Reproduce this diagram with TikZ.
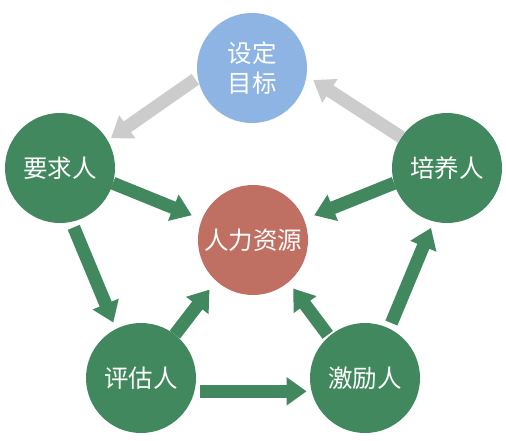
\documentclass[tikz,border=0pt]{standalone}
\usepackage{fontspec}
\setmainfont{Noto Sans CJK SC}
\usetikzlibrary{arrows.meta}
\definecolor{cgreen}{RGB}{66,136,94}
\definecolor{cblue}{RGB}{141,180,226}
\definecolor{cred}{RGB}{192,112,98}
\definecolor{cgrey}{RGB}{204,204,204}
\begin{document}
\begin{tikzpicture}[x=1pt,y=-1pt,
  circ/.style={circle,minimum size=110pt,inner sep=0pt,outer sep=0pt,text=white,
    font=\fontsize{24.5}{30}\selectfont,align=center},
  garrow/.style={draw=cgreen,line width=13pt,-{Triangle[width=27pt,length=20pt]}},
  grarrow/.style={draw=cgrey,line width=13pt,-{Triangle[width=27pt,length=20pt]}}]
\useasboundingbox (0,0) rectangle (506,440);
\node[circ,fill=cblue]  (sd) at (252,68)  {设定\\目标};
\node[circ,fill=cgreen] (yq) at (60,168)  {要求人};
\node[circ,fill=cgreen] (py) at (447,168) {培养人};
\node[circ,fill=cred]   (rl) at (253,240) {人力资源};
\node[circ,fill=cgreen] (pg) at (141,378) {评估人};
\node[circ,fill=cgreen] (jl) at (365,378) {激励人};
% grey arrows
\draw[grarrow,shorten <=3pt,shorten >=4pt] (sd.190) -- (yq.30);
\draw[grarrow,shorten >=8pt] (py.146) -- (sd.-8);
% green arrows
\draw[garrow,shorten >=11pt] (yq.-16) -- (rl.158);
\draw[garrow,shorten >=11pt] (py.196) -- (rl.22);
\draw[garrow,shorten <=6pt,shorten >=7pt] (yq.-78) -- (pg.117);
\draw[garrow,shorten <=6pt,shorten >=7pt] (jl.64) -- (py.256);
\draw[garrow,shorten >=11pt] (pg.52) -- (rl.228);
\draw[garrow,shorten <=2pt,shorten >=8pt] (jl.131) -- (rl.-50);
\draw[garrow,shorten <=6pt,shorten >=5pt] (pg.-14) -- (jl.194);
\end{tikzpicture}
\end{document}
